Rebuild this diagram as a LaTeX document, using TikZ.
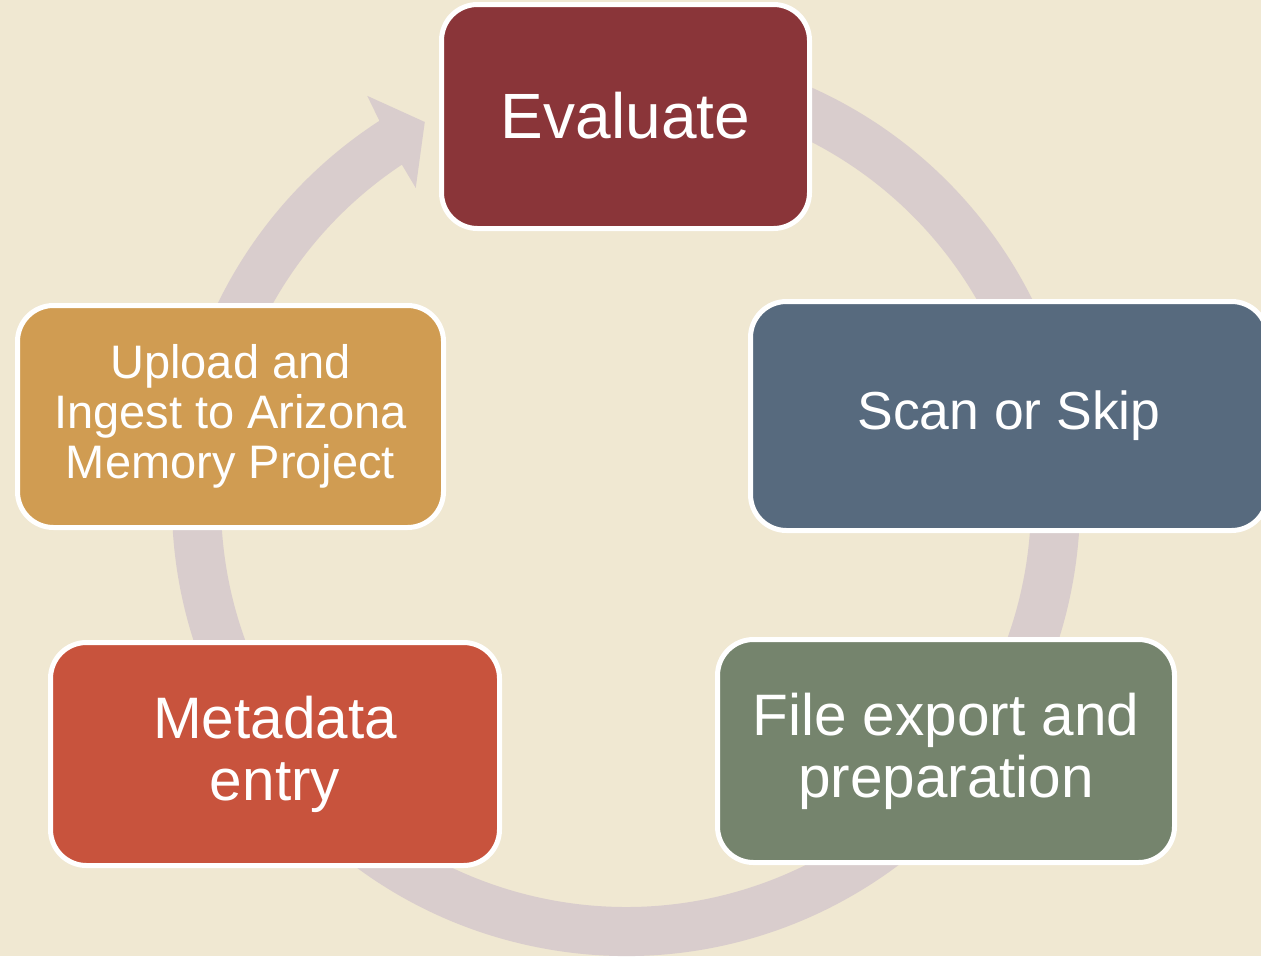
\documentclass[tikz,border=0pt]{standalone}
\usepackage{fontspec}
\setmainfont{Liberation Sans}
\definecolor{bgc}{HTML}{F0E8D2}
\definecolor{ringc}{HTML}{D9CDCD}
\definecolor{evalc}{HTML}{8A3539}
\definecolor{scanc}{HTML}{576A7E}
\definecolor{filec}{HTML}{75846D}
\definecolor{metac}{HTML}{C8533D}
\definecolor{uplc}{HTML}{D09C52}
\newcommand\fsEval{\fontsize{64pt}{68pt}\selectfont}
\newcommand\fsScan{\fontsize{53.5pt}{57pt}\selectfont}
\newcommand\fsUpl{\fontsize{47pt}{50pt}\selectfont}
\newcommand\fsMid{\fontsize{58.5pt}{62pt}\selectfont}
\begin{document}
\begin{tikzpicture}[x=1pt,y=-1pt,
  box/.style={draw=white, line width=5pt, rounded corners=36pt, inner sep=0pt, text=white, align=center}]
\useasboundingbox (0,0) rectangle (1261,956);
\clip (0,0) rectangle (1261,956);
\fill[bgc] (0,0) rectangle (1261,956);
% cycle ring with arrow head
\fill[ringc, shift={(626,502)}]
  (-80:454) arc[start angle=-80, end angle=237.1, radius=454]
  -- (237.5:481.6) -- (242.1:430) -- (236.2:378) -- (236.4:405)
  arc[start angle=236.4, end angle=-80, radius=405] -- cycle;
% steps
\node[box, fill=evalc, minimum width=368pt, minimum height=224pt, font=\fsEval] (evaluate) at (625.5,116.5) {\raisebox{3pt}{Evaluate}};
\node[box, fill=scanc, minimum width=517pt, minimum height=229pt, font=\fsScan] (scan) at (1009,416) {Scan or Skip};
\node[box, fill=filec, minimum width=457pt, minimum height=223pt, font=\fsMid] (file) at (946,751) {File export and\\preparation};
\node[box, fill=metac, minimum width=449pt, minimum height=223pt, font=\fsMid] (meta) at (275,754) {Metadata\\entry};
\node[box, fill=uplc, minimum width=426pt, minimum height=222pt, font=\fsUpl] (upload) at (230.5,416.5) {Upload and\\Ingest to Arizona\\Memory Project};
\end{tikzpicture}
\end{document}
